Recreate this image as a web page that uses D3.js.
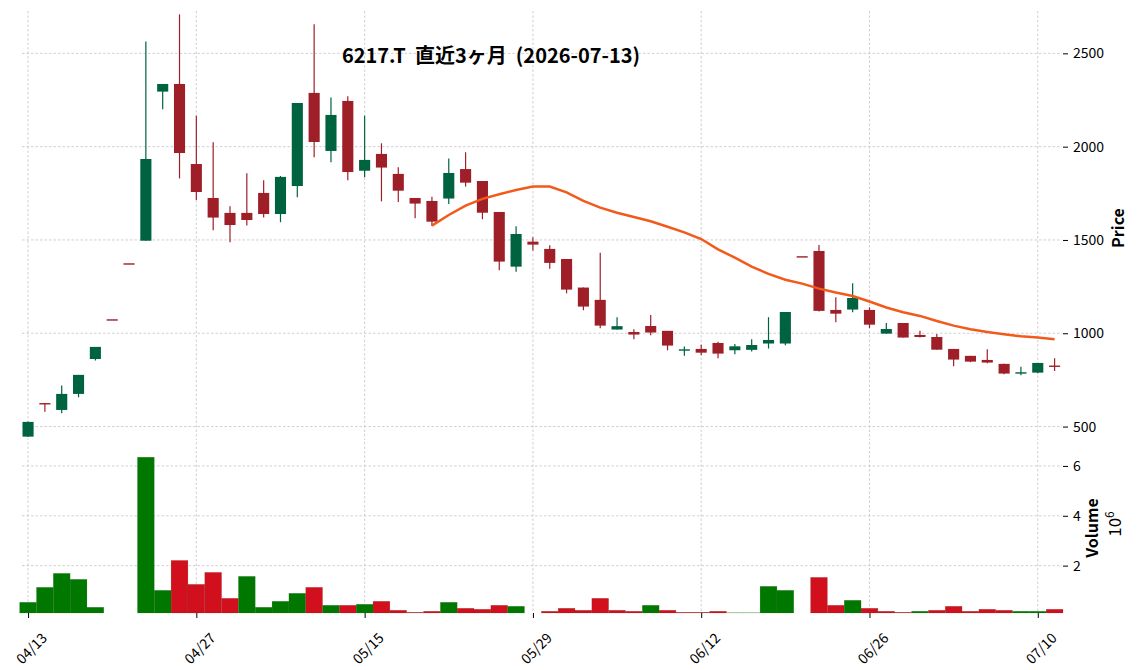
<!DOCTYPE html>
<html>
<head>
<meta charset="utf-8">
<script src="https://cdn.jsdelivr.net/npm/d3@7"></script>
<style>
  body { margin: 0; background: #fff; }
  svg text { font-family: "Noto Sans CJK JP", "Noto Sans", sans-serif; }
</style>
</head>
<body>
<div id="chart"></div>
<script>
// trading days (index based x axis, weekends/holidays skipped)
const dates = ['04/13','04/14','04/15','04/16','04/17','04/20','04/21','04/22','04/23','04/24',
  '04/27','04/28','04/30','05/01','05/07','05/08','05/11','05/12','05/13','05/14',
  '05/15','05/18','05/19','05/20','05/21','05/22','05/25','05/26','05/27','05/28',
  '05/29','06/01','06/02','06/03','06/04','06/05','06/08','06/09','06/10','06/11',
  '06/12','06/15','06/16','06/17','06/18','06/19','06/22','06/23','06/24','06/25',
  '06/26','06/29','06/30','07/01','07/02','07/03','07/06','07/07','07/08','07/09',
  '07/10','07/13']

const opens = [446,626,589,675,862,1075,1375,1496,2295,2336,
  1907,1725,1645,1645,1752,1639,1789,2288,1977,2245,
  1871,1961,1854,1725,1709,1722,1880,1816,1650,1357,
  1491,1452,1398,1245,1179,1020,1007,1039,1013,910,
  916,948,909,911,945,945,1413,1441,1125,1127,
  1125,998,1055,991,980,916,879,857,836,789,
  789,827]
const highs = [527,626,720,777,927,1075,1375,2564,2336,2709,
  2166,2023,1680,1857,1820,1843,2234,2656,2264,2270,
  2166,2018,1889,1725,1732,1936,1970,1816,1650,1573,
  1514,1471,1398,1245,1432,1086,1021,1098,1013,929,
  938,955,943,968,1086,1114,1413,1473,1193,1268,
  1139,1055,1055,1013,996,916,879,914,836,821,
  841,866]
const lows = [444,580,571,657,854,1075,1375,1496,2200,1830,
  1714,1552,1488,1577,1620,1595,1729,1943,1916,1820,
  1836,1707,1704,1616,1575,1693,1786,1611,1338,1330,
  1443,1346,1214,1123,1027,1020,968,989,909,879,
  882,866,887,902,918,936,1413,1116,1059,1113,
  1027,998,977,977,912,823,845,839,780,775,
  786,798]
const closes = [525,624,675,777,927,1075,1375,1934,2336,1966,
  1757,1620,1580,1607,1639,1838,2234,2025,2170,1864,
  1929,1888,1764,1695,1598,1859,1807,1646,1384,1532,
  1475,1377,1234,1143,1041,1038,993,1004,934,914,
  896,891,930,937,964,1114,1413,1120,1105,1189,
  1046,1023,977,980,912,859,848,843,784,791,
  841,820]

// volume in millions of shares (null = no trade)
const volumes = [0.53,1.13,1.69,1.45,0.33,null,null,6.35,1.01,2.21,
  1.25,1.73,0.69,1.57,0.33,0.57,0.89,1.13,0.41,0.41,
  0.45,0.57,0.21,0.13,0.17,0.53,0.29,0.25,0.41,0.37,
  null,0.17,0.29,0.21,0.69,0.21,0.17,0.41,0.21,0.13,
  0.13,0.17,0.11,0.11,1.17,1.01,null,1.53,0.41,0.61,
  0.29,0.17,0.13,0.17,0.21,0.37,0.17,0.25,0.21,0.17,
  0.17,0.25]

// 25 day moving average
const ma25 = [null,null,null,null,null,null,null,null,null,null,
  null,null,null,null,null,null,null,null,null,null,
  null,null,null,null,1577,1634,1684,1720,1745,1768,
  1786,1786,1755,1709,1673,1646,1623,1600,1571,1541,
  1505,1450,1405,1357,1318,1287,1266,1239,1218,1200,
  1170,1138,1113,1093,1066,1041,1021,1007,995,984,
  977,968]

const priceTicks = [500, 1000, 1500, 2000, 2500]
const volumeTicks = [2, 4, 6]
const dateTicks = [0, 10, 20, 30, 40, 50, 60]

const candleUp = '#006340'
const candleDown = '#9f1f28'
const volUp = '#007800'
const volDown = '#d20f1c'
const maColor = '#f25a1c'
const gridColor = '#c4c4c4'

const width = 1137
const height = 670

const svg = d3.select('#chart')
  .append('svg')
  .attr('width', width)
  .attr('height', height)

// scales
const xScale = d3.scaleLinear()
  .domain([-0.36, 61.44])
  .range([22, 1062])

const yPrice = d3.scaleLinear()
  .domain([428, 2727])
  .range([440, 11])

const yVol = d3.scaleLinear()
  .domain([0.1, 6.96])
  .range([613, 442])

const idx = d3.range(dates.length)

// grid lines
const grid = svg.append('g')
  .attr('stroke', gridColor)
  .attr('stroke-width', 0.8)
  .attr('stroke-dasharray', '2.5,2')

grid.selectAll('.hp')
  .data(priceTicks)
  .enter()
  .append('line')
    .attr('x1', xScale.range()[0])
    .attr('x2', xScale.range()[1])
    .attr('y1', d => yPrice(d))
    .attr('y2', d => yPrice(d))

grid.selectAll('.hv')
  .data(volumeTicks)
  .enter()
  .append('line')
    .attr('x1', xScale.range()[0])
    .attr('x2', xScale.range()[1])
    .attr('y1', d => yVol(d))
    .attr('y2', d => yVol(d))

grid.selectAll('.vp')
  .data(dateTicks)
  .enter()
  .append('line')
    .attr('x1', d => xScale(d))
    .attr('x2', d => xScale(d))
    .attr('y1', yPrice.range()[1])
    .attr('y2', yPrice.range()[0])

grid.selectAll('.vv')
  .data(dateTicks)
  .enter()
  .append('line')
    .attr('x1', d => xScale(d))
    .attr('x2', d => xScale(d))
    .attr('y1', yVol.range()[1])
    .attr('y2', yVol.range()[0])

// candles
const bodyW = 0.66 * (xScale(1) - xScale(0))
const isUp = i => closes[i] > opens[i]

const candles = svg.append('g')

candles.selectAll('.wick')
  .data(idx)
  .enter()
  .append('line')
    .attr('x1', i => xScale(i))
    .attr('x2', i => xScale(i))
    .attr('y1', i => yPrice(highs[i]))
    .attr('y2', i => yPrice(lows[i]))
    .attr('stroke', i => isUp(i) ? candleUp : candleDown)
    .attr('stroke-width', 1.2)

candles.selectAll('.body')
  .data(idx)
  .enter()
  .append('rect')
    .attr('x', i => xScale(i) - bodyW / 2)
    .attr('y', i => yPrice(Math.max(opens[i], closes[i])))
    .attr('width', bodyW)
    .attr('height', i => Math.max(1.4, Math.abs(yPrice(opens[i]) - yPrice(closes[i]))))
    .attr('fill', i => isUp(i) ? candleUp : candleDown)

// moving average
const maLine = d3.line()
  .defined(i => ma25[i] !== null)
  .x(i => xScale(i))
  .y(i => yPrice(ma25[i]))

svg.append('path')
  .datum(idx)
  .attr('d', maLine)
  .attr('fill', 'none')
  .attr('stroke', maColor)
  .attr('stroke-width', 2.5)

// volume bars, coloured by close versus previous close
const barW = xScale(1) - xScale(0)
const volData = idx.filter(i => volumes[i] !== null)

svg.append('g')
  .selectAll('rect')
  .data(volData)
  .enter()
  .append('rect')
    .attr('x', i => xScale(i) - barW / 2)
    .attr('y', i => yVol(volumes[i]))
    .attr('width', barW)
    .attr('height', i => yVol(0.1) - yVol(volumes[i]))
    .attr('fill', i => (i === 0 || closes[i] >= closes[i - 1]) ? volUp : volDown)
    .attr('stroke', '#2a4a2a')
    .attr('stroke-opacity', 0.25)
    .attr('stroke-width', 0.5)

// right axes
const priceAxis = d3.axisRight(yPrice)
  .tickValues(priceTicks)
  .tickFormat(d3.format('d'))
  .tickSize(5)
  .tickPadding(5)

const volAxis = d3.axisRight(yVol)
  .tickValues(volumeTicks)
  .tickFormat(d3.format('d'))
  .tickSize(5)
  .tickPadding(5)

svg.append('g')
  .attr('transform', 'translate(1063,0)')
  .call(priceAxis)

svg.append('g')
  .attr('transform', 'translate(1063,0)')
  .call(volAxis)

svg.selectAll('.domain').remove()
svg.selectAll('.tick text')
  .attr('font-size', '14px')
  .attr('fill', '#000')

// x axis (bottom of volume panel)
const xAxis = d3.axisBottom(xScale)
  .tickValues(dateTicks)
  .tickSize(5)
  .tickFormat('')

svg.append('g')
  .attr('transform', 'translate(0,613)')
  .call(xAxis)
  .select('.domain').remove()

svg.append('g')
  .selectAll('text')
  .data(dateTicks)
  .enter()
  .append('text')
    .attr('transform', d => `translate(${xScale(d) + 11},${630}) rotate(-45)`)
    .attr('text-anchor', 'end')
    .attr('dominant-baseline', 'hanging')
    .attr('font-size', '14px')
    .text(d => dates[d])

// axis labels
svg.append('text')
  .attr('transform', 'translate(1124,228) rotate(-90)')
  .attr('text-anchor', 'middle')
  .attr('font-size', '16px')
  .attr('font-weight', 'bold')
  .text('Price')

svg.append('text')
  .attr('transform', 'translate(1098,528) rotate(-90)')
  .attr('text-anchor', 'middle')
  .attr('font-size', '16px')
  .attr('font-weight', 'bold')
  .text('Volume')

const expo = svg.append('text')
  .attr('transform', 'translate(1121,524) rotate(-90)')
  .attr('text-anchor', 'middle')
  .attr('font-size', '17px')
expo.append('tspan').text('10')
expo.append('tspan').attr('dy', -7).attr('font-size', '12px').text('6')

// title
svg.append('text')
  .attr('x', 491)
  .attr('y', 63)
  .attr('text-anchor', 'middle')
  .attr('font-size', '20px')
  .attr('font-weight', 'bold')
  .style('white-space', 'pre')
  .text('6217.T  直近3ヶ月  (2026-07-13)')
</script>
</body>
</html>
